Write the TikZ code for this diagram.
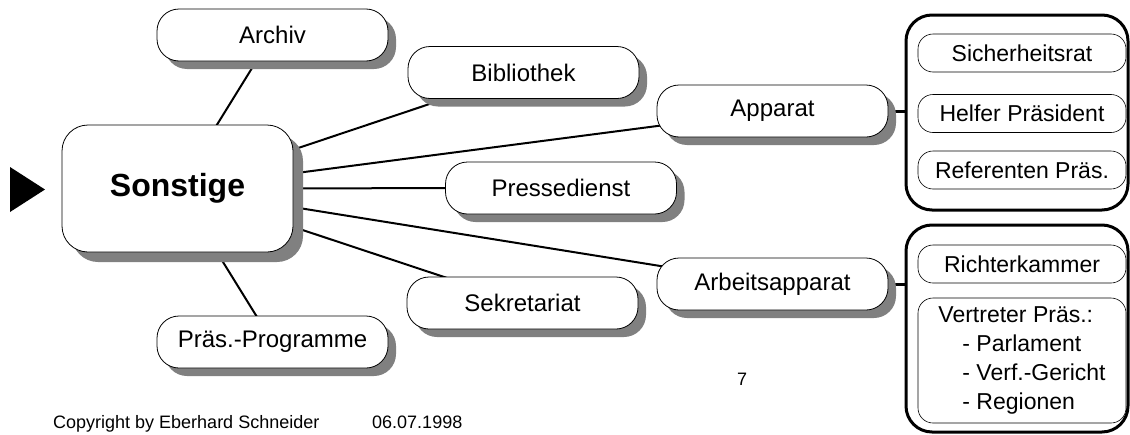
\documentclass[tikz,border=0pt]{standalone}
\usepackage{fontspec}
\setmainfont{Liberation Sans}
\usetikzlibrary{shadows,backgrounds}

\tikzset{
	box/.style={draw, line width=0.8pt, fill=white, inner sep=0pt},
	topic/.style={box, rounded corners=22pt, minimum width=231pt, minimum height=52pt,
		font=\fontsize{24}{28}\selectfont,
		drop shadow={shadow xshift=8pt, shadow yshift=-8pt, fill=black!50, opacity=1}},
	group/.style={draw, line width=3pt, rounded corners=26pt, inner sep=0pt, minimum width=222pt},
	item/.style={box, line width=0.6pt, rounded corners=15pt, minimum width=208pt, minimum height=38pt,
		font=\fontsize{23}{27}\selectfont},
	link/.style={line width=2pt},
	bracket/.style={line width=3pt},
	foot/.style={font=\fontsize{18}{22}\selectfont, inner sep=0pt}
}

\begin{document}
\begin{tikzpicture}[x=1pt, y=-1pt]
			%%%%% START %%%%%
			\useasboundingbox (0,0) rectangle (1130,434);
			
			\fill[black] (10,167) -- (45,189.5) -- (10,212) -- cycle;
			
			\node[box, rounded corners=26pt, minimum width=231pt, minimum height=127pt,
				font=\fontsize{32}{36}\selectfont\bfseries,
				drop shadow={shadow xshift=10pt, shadow yshift=-10pt, fill=black!50, opacity=1}]
				(son) at (177.5,188.5) {Sonstige};
			
			\node[topic] (arc) at (272.5,35) {Archiv};
			\node[topic] (bib) at (523.5,72.5) {Bibliothek};
			\node[topic] (app) at (772.5,111) {Apparat};
			\node[topic] (pre) at (561,188) {Pressedienst};
			\node[topic] (arb) at (772.5,284) {Arbeitsapparat};
			\node[topic] (sek) at (522.5,303) {Sekretariat};
			\node[topic] (prp) at (272.5,342) {Präs.-Programme};
			
			%% right hand groups
			\node[group, minimum height=195pt] (grpA) at (1017,112.5) {};
			\node[item] (sich) at (1022,53) {Sicherheitsrat};
			\node[item] (helf) at (1022,113.5) {Helfer Präsident};
			\node[item] (ref) at (1022,170) {Referenten Präs.};
			
			\node[group, minimum height=207pt] (grpB) at (1017,328.5) {};
			\node[item] (richt) at (1022,264) {Richterkammer};
			\node[item, minimum height=125pt, align=left, inner xsep=16pt,
				font=\fontsize{23}{29}\selectfont] (vert) at (1022,360.5)
				{Vertreter Präs.:\\
				\hspace*{24pt}- Parlament\\
				\hspace*{24pt}- Verf.-Gericht\\
				\hspace*{24pt}- Regionen};
			
			\begin{pgfonlayer}{background}
				\draw[link] (son.center) -- (arc.center);
				\draw[link] (son.center) -- (bib.center);
				\draw[link] (son.center) -- (app.center);
				\draw[link] (son.center) -- (pre.center);
				\draw[link] (son.center) -- (arb.center);
				\draw[link] (son.center) -- (sek.center);
				\draw[link] (son.center) -- (prp.center);
				\draw[bracket] (app.center) -- (app.center -| grpA.west);
				\draw[bracket] (arb.center) -- (arb.center -| grpB.west);
			\end{pgfonlayer}
			
			\node[foot] (pg) at (742,379) {7};
			\node[foot, anchor=base west] (copy) at (53,428) {Copyright by Eberhard Schneider};
			\node[foot, anchor=base west] (date) at (372,428) {06.07.1998};
			%%%%% END %%%%%
\end{tikzpicture}
\end{document}
